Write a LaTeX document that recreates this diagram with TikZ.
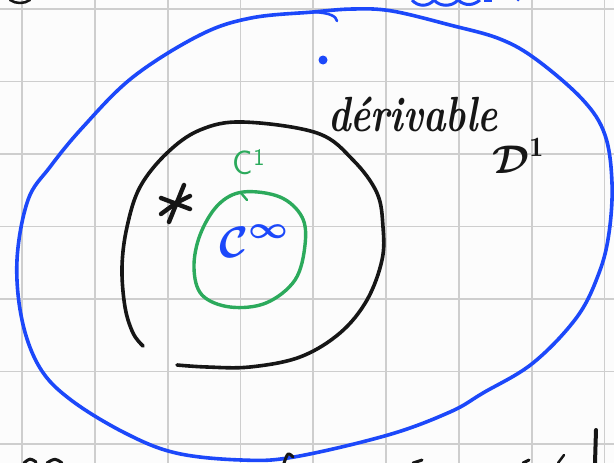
\documentclass[tikz,border=0pt]{standalone}
\usepackage{fontspec}
\usepackage{graphicx}
\usepackage{amsmath}
\usepackage{bm}
\definecolor{inkblue}{RGB}{28,72,250}
\definecolor{inkgreen}{RGB}{44,170,92}
\definecolor{inkblack}{RGB}{22,22,22}
\definecolor{gridgray}{RGB}{206,206,206}
\definecolor{paper}{RGB}{252,252,252}
\tikzset{
  gridline/.style={draw=gridgray, line width=1.8pt},
  bluestroke/.style={draw=inkblue, line width=3.6pt, line cap=round, line join=round},
  blackstroke/.style={draw=inkblack, line width=3.6pt, line cap=round, line join=round},
  greenstroke/.style={draw=inkgreen, line width=3.4pt, line cap=round, line join=round},
  txtlabel/.style={inner sep=0pt, outer sep=0pt}
}
\begin{document}
\begin{tikzpicture}[x=1pt,y=-1pt]
\useasboundingbox (0,0) rectangle (614,463);
\fill[paper] (0,0) rectangle (614,463);
% grid
\foreach \k in {0,...,8} {\draw[gridline] ({22+72.8*\k},0) -- ({22+72.8*\k},463);}
\foreach \k in {0,...,6} {\draw[gridline] (0,{9+72.5*\k}) -- (614,{9+72.5*\k});}
% outer blue closed curve
\draw[bluestroke] plot[smooth cycle, tension=0.6] coordinates {
 (313,12) (353,9) (392,11) (450,25) (500,39) (537,60) (583,100) (605,135) (612,183)
 (609,233) (599,273) (577,317) (533,363) (483,393) (450,412) (388,435) (294,457)
 (241,460) (176,453) (125,433) (71,400) (40,368) (22,320) (17,260) (28,200)
 (50,167) (83,127) (133,77) (200,35) (251,18)};
\draw[bluestroke, line width=2.6pt] (314,12) .. controls (330,13) and (336,16) .. (337,21);
\coordinate (dot) at (323,60);
\fill[inkblue] (dot) circle (4.5pt);
% black open curve
\draw[blackstroke] plot[smooth, tension=0.6] coordinates {
 (143,346) (133,333) (125,307) (122,267) (127,227) (140,187) (167,153) (200,130)
 (243,122) (317,133) (353,160) (377,193) (383,227) (382,260) (367,300) (340,333)
 (300,357) (250,367) (207,367) (177,365)};
% green closed curve
\draw[greenstroke] plot[smooth cycle, tension=0.6] coordinates {
 (243,192) (280,197) (302,217) (305,245) (295,280) (266,303) (230,307) (202,295)
 (194,268) (200,235) (218,205)};
\draw[greenstroke, line width=2.4pt] (241,193) -- (247,200);
% star
\coordinate (star) at (176,203);
\draw[blackstroke, line width=4.4pt] ([shift={(8,-18)}]star) -- ([shift={(-7,19)}]star);
\draw[blackstroke, line width=4.4pt] ([shift={(-15,-5)}]star) -- ([shift={(14,6)}]star);
\draw[blackstroke, line width=4.4pt] ([shift={(-15,11)}]star) -- ([shift={(0,0)}]star) -- ([shift={(14,-7)}]star);
% labels
\node[txtlabel, text=inkgreen, font=\sffamily\fontsize{34}{34}\selectfont] (c1) at (249,162) {C\textsuperscript{1}};
\node[txtlabel, text=inkblue] (cinf) at (255,241) {\scalebox{4.4}{$\bm{\mathcal{C}}^{\bm{\infty}}$}};
\node[txtlabel, text=inkblack, font=\bfseries\itshape\fontsize{38}{38}\selectfont, anchor=base west] (deriv) at (328,131) {\scalebox{1}[1.3]{dérivable}};
\node[txtlabel, text=inkblack] (d1) at (519,156) {\scalebox{4}{$\bm{\mathcal{D}}^{\mathbf{1}}$}};
% cut-off fragments at the edges
\draw[blackstroke, line width=4pt] (596,430) -- (595,463);
\draw[blackstroke, line width=3pt] (24,463) .. controls (30,458) .. (36,462);
\draw[blackstroke, line width=3pt] (47,463) .. controls (55,458) .. (62,463);
\draw[blackstroke, line width=3pt] (284,463) .. controls (288,452) .. (293,457);
\draw[blackstroke, line width=3pt] (413,463) -- (422,460);
\draw[blackstroke, line width=3pt] (523,463) -- (529,460);
\draw[blackstroke, line width=2.5pt] (558,463) -- (564,455);
\draw[draw=inkblue, line width=3pt] (412,0) .. controls (418,7) and (428,7) .. (434,0) .. controls (440,7) and (452,7) .. (458,0) .. controls (466,7) and (474,5) .. (480,0);
\draw[draw=inkblue, line width=2pt] (484,1) -- (492,1);
\fill[inkblue] (518,0) circle (1.5pt);
\draw[blackstroke, line width=2.5pt] (10,0) .. controls (16,4) and (24,4) .. (30,0);
\end{tikzpicture}
\end{document}
